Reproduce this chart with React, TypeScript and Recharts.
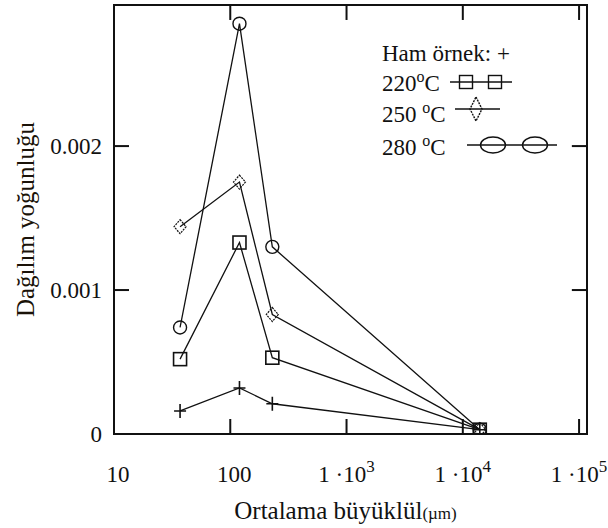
import React from 'react';
import { LineChart, Line, XAxis, YAxis, Legend, ReferenceArea, ReferenceLine } from 'recharts';

// mean particle size (µm) and distribution density per sample
const sizes = [37, 120, 230, 14000];
const ham = [0.00016, 0.00032, 0.00021, 0.00003];
const t220 = [0.00052, 0.00133, 0.00053, 0.00003];
const t250 = [0.00144, 0.00175, 0.00083, 0.00003];
const t280 = [0.00074, 0.00285, 0.0013, 0.00003];

const xTicks = [10, 100, 1000, 10000, 100000];
const yTicks = [0, 0.001, 0.002];

const X_MAX = 117000;
const Y_MAX = 0.00298;

const data = sizes.map((s, i) => ({ size: s, ham: ham[i], t220: t220[i], t250: t250[i], t280: t280[i] }));

const serif = { fontFamily: 'Liberation Serif, Times New Roman, DejaVu Serif, serif' };
const INK = '#111';

const PlusDot = ({ cx, cy }: any) => (
  <path d={`M${cx - 6},${cy}H${cx + 6}M${cx},${cy - 7}V${cy + 7}`} stroke={INK} strokeWidth={1.6} fill="none" />
);
const SquareDot = ({ cx, cy }: any) => (
  <rect x={cx - 6.5} y={cy - 6.5} width={13} height={13} stroke={INK} strokeWidth={1.6} fill="none" />
);
const DiamondDot = ({ cx, cy }: any) => (
  <path d={`M${cx},${cy - 7}L${cx + 6},${cy}L${cx},${cy + 7}L${cx - 6},${cy}Z`} stroke={INK} strokeWidth={1.2} strokeDasharray="2 1" fill="none" />
);
const CircleDot = ({ cx, cy }: any) => (
  <circle cx={cx} cy={cy} r={6.5} stroke={INK} strokeWidth={1.4} fill="none" />
);

const XTick = ({ x, y, payload }: any) => {
  const e = Math.round(Math.log10(payload.value));
  return (
    <text x={e <= 2 ? x + 4 : x} y={y + 48} textAnchor="middle" style={serif} fontSize={23} fill={INK}>
      {e <= 2 ? (
        String(payload.value)
      ) : (
        <>
          <tspan>1 ·10</tspan>
          <tspan dy={-10} fontSize={17}>{e}</tspan>
        </>
      )}
    </text>
  );
};

const YTick = ({ x, y, payload }: any) => (
  <text x={x} y={y + 8} textAnchor="end" style={serif} fontSize={23} fill={INK}>
    {payload.value === 0 ? '0' : payload.value.toFixed(3)}
  </text>
);

const Deg = ({ t, gap }: { t: string; gap?: boolean }) => (
  <>
    <tspan>{t}{gap ? ' ' : ''}</tspan>
    <tspan dy={-9} fontSize={16}>o</tspan>
    <tspan dy={9}>C</tspan>
  </>
);

// legend drawn as a small svg block, positioned inside the plot frame
const LegendBox = () => (
  <svg width={220} height={140} style={{ overflow: 'visible' }}>
    <g style={serif} fontSize={23} fill={INK}>
      <text x={12} y={31}>Ham örnek: +</text>
      <text x={12} y={61}><Deg t="220" /></text>
      <text x={12} y={92}><Deg t="250" gap /></text>
      <text x={12} y={125}><Deg t="280" gap /></text>
    </g>
    <g stroke={INK} fill="none" strokeWidth={1.4}>
      <path d="M80,52H142" />
      <rect x={89.5} y={45.5} width={13} height={13} />
      <rect x={118.5} y={45.5} width={13} height={13} />
      <path d="M85,79H130" />
      <path d="M106,67L112,79L106,91L100,79Z" strokeDasharray="2 1" />
      <path d="M97,115H187" />
      <ellipse cx={123} cy={115} rx={12.5} ry={8} />
      <ellipse cx={165} cy={115} rx={12.5} ry={8} />
    </g>
  </svg>
);

const axisStroke = { stroke: INK, strokeWidth: 2 };

// inward tick length on the top and right edges, in data units (~15px)
const TOP_TICK = 0.000104;
const RIGHT_TICK = 1.35;

export default function App() {
  return (
    <div style={{ position: 'absolute', left: 0, top: 0, background: '#fff' }}>
      <LineChart width={608} height={528} data={data} margin={{ top: 5, right: 21, bottom: 64, left: 54 }}>
        <XAxis
          dataKey="size"
          type="number"
          scale="log"
          domain={[10, X_MAX]}
          allowDataOverflow
          ticks={xTicks}
          tick={<XTick />}
          tickSize={-15}
          tickMargin={15}
          height={30}
          axisLine={axisStroke}
          tickLine={axisStroke}
          label={({ viewBox }: any) => (
            <text x={viewBox.x + viewBox.width / 2 - 5} y={viewBox.y + 85} textAnchor="middle" style={serif} fontSize={25} fill={INK}>
              Ortalama büyüklül<tspan fontSize={17}>(µm)</tspan>
            </text>
          )}
        />
        <YAxis
          type="number"
          domain={[0, Y_MAX]}
          allowDataOverflow
          ticks={yTicks}
          tick={<YTick />}
          tickSize={-15}
          tickMargin={27}
          width={60}
          axisLine={axisStroke}
          tickLine={axisStroke}
          label={({ viewBox }: any) => {
            const cy = viewBox.y + viewBox.height / 2;
            return (
              <text x={34} y={cy} transform={`rotate(-90 34 ${cy})`} textAnchor="middle" style={serif} fontSize={25} fill="#1a1208">
                Dağılım yoğunluğu
              </text>
            );
          }}
        />
        {/* closed frame with mirrored ticks on top and right */}
        <ReferenceArea x1={10} x2={X_MAX} y1={0} y2={Y_MAX} fill="none" stroke={INK} strokeWidth={2} ifOverflow="visible" />
        {xTicks.map((t) => (
          <ReferenceLine key={`xt${t}`} segment={[{ x: t, y: Y_MAX }, { x: t, y: Y_MAX - TOP_TICK }]} stroke={INK} strokeWidth={2} ifOverflow="visible" />
        ))}
        {yTicks.map((t) => (
          <ReferenceLine key={`yt${t}`} segment={[{ x: X_MAX, y: t }, { x: X_MAX / RIGHT_TICK, y: t }]} stroke={INK} strokeWidth={2} ifOverflow="visible" />
        ))}
        <Legend
          layout="horizontal"
          verticalAlign="middle"
          align="center"
          content={() => <LegendBox />}
          wrapperStyle={{ left: 370, top: 30, width: 220, height: 140 }}
        />
        <Line dataKey="ham" stroke={INK} strokeWidth={1.3} dot={(p: any) => <PlusDot key={p.index} {...p} />} isAnimationActive={false} />
        <Line dataKey="t220" stroke={INK} strokeWidth={1.3} dot={(p: any) => <SquareDot key={p.index} {...p} />} isAnimationActive={false} />
        <Line dataKey="t250" stroke={INK} strokeWidth={1.3} dot={(p: any) => <DiamondDot key={p.index} {...p} />} isAnimationActive={false} />
        <Line dataKey="t280" stroke={INK} strokeWidth={1.3} dot={(p: any) => <CircleDot key={p.index} {...p} />} isAnimationActive={false} />
      </LineChart>
    </div>
  );
}
